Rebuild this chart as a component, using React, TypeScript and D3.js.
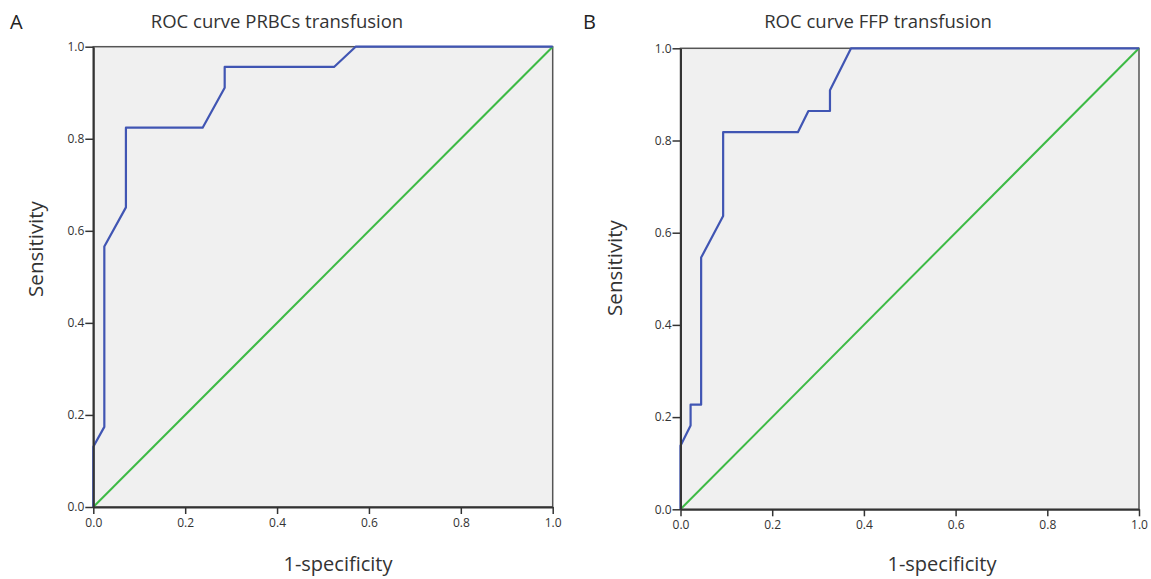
import React, { useEffect, useRef } from 'react';
import * as d3 from 'd3';

// ROC curve A: PRBCs transfusion (1-specificity, sensitivity)
const rocA_fpr = [0, 0, 0.024, 0.024, 0.071, 0.071, 0.238, 0.286, 0.286, 0.524, 0.571, 1.0];
const rocA_tpr = [0, 0.131, 0.174, 0.566, 0.651, 0.824, 0.824, 0.911, 0.956, 0.956, 1.0, 1.0];

// ROC curve B: FFP transfusion
const rocB_fpr = [0, 0, 0.022, 0.022, 0.045, 0.045, 0.093, 0.093, 0.256, 0.279, 0.326, 0.326, 0.372, 1.0];
const rocB_tpr = [0, 0.138, 0.182, 0.227, 0.227, 0.546, 0.636, 0.818, 0.818, 0.864, 0.864, 0.909, 1.0, 1.0];

const ticks = [0, 0.2, 0.4, 0.6, 0.8, 1.0];

const panels = [
  { letter: 'A', title: 'ROC curve PRBCs transfusion', fpr: rocA_fpr, tpr: rocA_tpr,
    x0: 93.3, x1: 552.7, y0: 507, y1: 46.7, letterX: 10, titleX: 277, xLabelX: 338, yLabelX: 43, yLabelY: 249 },
  { letter: 'B', title: 'ROC curve FFP transfusion', fpr: rocB_fpr, tpr: rocB_tpr,
    x0: 680.5, x1: 1139, y0: 509.3, y1: 48.3, letterX: 583, titleX: 878, xLabelX: 942, yLabelX: 622, yLabelY: 268 },
];

const FONT = "'Open Sans', 'Noto Sans', sans-serif";

const App = () => {
  const svgRef = useRef(null);

  useEffect(() => {
    const svg = d3.select(svgRef.current);
    svg.selectAll('*').remove();

    panels.forEach(p => {
      const x = d3.scaleLinear().domain([0, 1]).range([p.x0, p.x1]);
      const y = d3.scaleLinear().domain([0, 1]).range([p.y0, p.y1]);
      const g = svg.append('g');

      // plot background + frame
      g.append('rect')
        .attr('x', x(0)).attr('y', y(1))
        .attr('width', x(1) - x(0)).attr('height', y(0) - y(1))
        .style('fill', '#f0f0f0')
        .style('stroke', '#555')
        .style('stroke-width', 1.5);

      // reference diagonal
      g.append('line')
        .attr('x1', x(0)).attr('y1', y(0))
        .attr('x2', x(1)).attr('y2', y(1))
        .style('stroke', '#3dba45')
        .style('stroke-width', 2);

      // roc curve
      const pts = p.fpr.map((f, i) => [f, p.tpr[i]]);
      const line = d3.line().x(d => x(d[0])).y(d => y(d[1]));
      g.append('path')
        .attr('d', line(pts))
        .style('fill', 'none')
        .style('stroke', '#4055b3')
        .style('stroke-width', 2.2)
        .style('stroke-linejoin', 'round');

      // axes
      const xAxis = d3.axisBottom(x).tickValues(ticks).tickFormat(d3.format('.1f')).tickSize(7).tickSizeOuter(0);
      const yAxis = d3.axisLeft(y).tickValues(ticks).tickFormat(d3.format('.1f')).tickSize(8).tickSizeOuter(0);

      const gx = g.append('g').attr('transform', `translate(0,${p.y0})`).call(xAxis);
      const gy = g.append('g').attr('transform', `translate(${p.x0},0)`).call(yAxis);
      [gx, gy].forEach(a => {
        a.select('.domain').style('stroke', '#333').style('stroke-width', 2);
        a.selectAll('.tick line').style('stroke', '#333').style('stroke-width', 1.5);
        a.selectAll('.tick text')
          .style('font-family', FONT)
          .style('font-size', '12px')
          .style('fill', '#333');
      });
      gx.selectAll('.tick text').attr('dy', '0.85em');
      gy.selectAll('.tick text').attr('x', -9);

      // titles
      svg.append('text')
        .attr('x', p.letterX).attr('y', 29)
        .style('font-family', FONT).style('font-size', '20px').style('fill', '#222')
        .text(p.letter);
      svg.append('text')
        .attr('x', p.titleX).attr('y', 28)
        .attr('text-anchor', 'middle')
        .style('font-family', FONT).style('font-size', '18.5px').style('fill', '#333')
        .text(p.title);
      svg.append('text')
        .attr('x', p.xLabelX).attr('y', 571)
        .attr('text-anchor', 'middle')
        .style('font-family', FONT).style('font-size', '20px').style('fill', '#333')
        .text('1-specificity');
      svg.append('text')
        .attr('transform', `translate(${p.yLabelX},${p.yLabelY}) rotate(-90)`)
        .attr('text-anchor', 'middle')
        .style('font-family', FONT).style('font-size', '20.5px').style('fill', '#333')
        .text('Sensitivity');
    });

    return () => {
      svg.selectAll('*').remove();
    };
  }, []);

  return (
    <div style={{ position: 'fixed', left: 0, top: 0, background: '#fff' }}>
      <svg ref={svgRef} width={1151} height={579} style={{ display: 'block' }}></svg>
    </div>
  );
};

export default App;
